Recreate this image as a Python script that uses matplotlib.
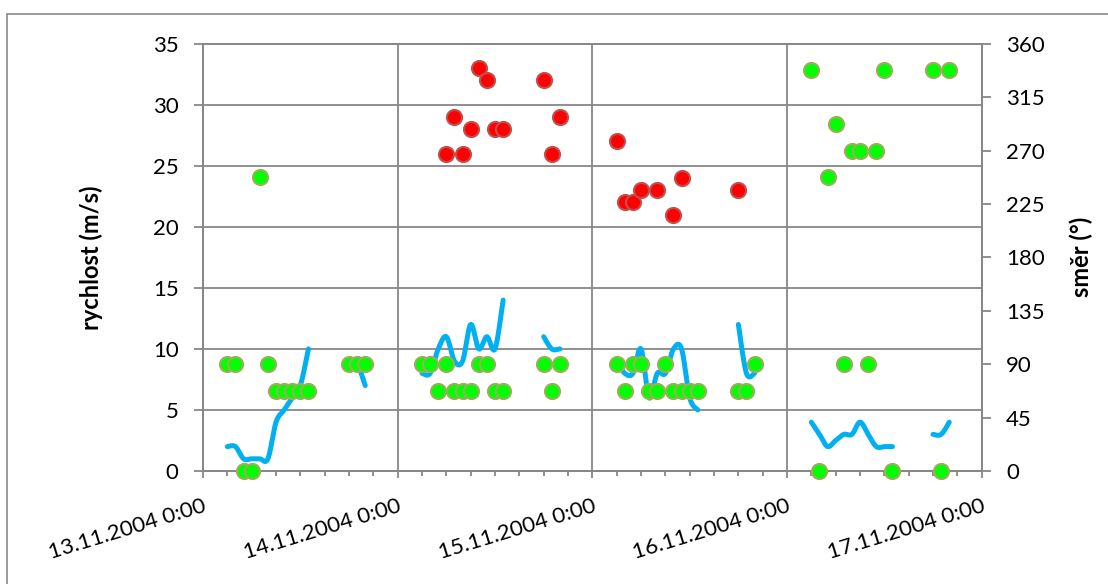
import numpy as np
import matplotlib
matplotlib.use("Agg")
import matplotlib.pyplot as plt
from matplotlib.patches import Rectangle

plt.rcParams['font.family'] = ['Lato', 'DejaVu Sans']

# hours counted from 13.11.2004 0:00
day_labels = ["13.11.2004 0:00", "14.11.2004 0:00", "15.11.2004 0:00",
              "16.11.2004 0:00", "17.11.2004 0:00"]

speed_h = [3, 4, 5, 6, 7, 8, 9, 10, 11, 12, 13, 19, 20,
           27, 28, 29, 30, 31, 32, 33, 34, 35, 36, 37, 42, 43, 44,
           51, 52, 53, 54, 55, 56, 57, 58, 59, 60, 61, 66, 67, 68,
           75, 76, 77, 78, 79, 80, 81, 82, 83, 84, 85, 90, 91, 92]
speed = [2, 2, 1, 1, 1, 1, 4, 5, 6, 7, 10, 9, 7,
         8, 8, 10, 11, 9, 9, 12, 10, 11, 10, 14, 11, 10, 10,
         9, 8, 8, 10, 6, 8, 8, 10, 10, 6, 5, 12, 8, 8,
         4, 3, 2, 2.5, 3, 3, 4, 3, 2, 2, 2, 3, 3, 4]

gust_h = [30, 31, 32, 33, 34, 35, 36, 37, 42, 43, 44,
          51, 52, 53, 54, 56, 58, 59, 66]
gust = [26, 29, 26, 28, 33, 32, 28, 28, 32, 26, 29,
        27, 22, 22, 23, 23, 21, 24, 23]

dir_h = [3, 4, 5, 6, 7, 8, 9, 10, 11, 12, 13, 18, 19, 20,
         27, 28, 29, 30, 31, 32, 33, 34, 35, 36, 37, 42, 43, 44,
         51, 52, 53, 54, 55, 56, 57, 58, 59, 60, 61, 66, 67, 68,
         75, 76, 77, 78, 79, 80, 81, 82, 83, 84, 85, 90, 91, 92]
direction = [90, 90, 0, 0, 247.5, 90, 67.5, 67.5, 67.5, 67.5, 67.5, 90, 90, 90,
             90, 90, 67.5, 90, 67.5, 67.5, 67.5, 90, 90, 67.5, 67.5, 90, 67.5, 90,
             90, 67.5, 90, 90, 67.5, 67.5, 90, 67.5, 67.5, 67.5, 67.5, 67.5, 67.5, 90,
             337.5, 0, 247.5, 292.5, 90, 270, 270, 90, 270, 337.5, 0, 337.5, 0, 337.5]


def smooth(x, y, n=16):
    # Catmull-Rom curve through the points, like Excel's smoothed line
    p = np.column_stack([x, y]).astype(float)
    p = np.vstack([p[0], p, p[-1]])
    t = np.linspace(0, 1, n)[:, None]
    out = []
    for i in range(1, len(p) - 2):
        p0, p1, p2, p3 = p[i - 1], p[i], p[i + 1], p[i + 2]
        seg = 0.5 * (2 * p1 + (-p0 + p2) * t + (2 * p0 - 5 * p1 + 4 * p2 - p3) * t ** 2
                     + (-p0 + 3 * p1 - 3 * p2 + p3) * t ** 3)
        out.append(seg if i == 1 else seg[1:])
    out = np.vstack(out)
    return out[:, 0], out[:, 1]


grey = "#878787"
fig = plt.figure(figsize=(11.08, 5.84), dpi=100)
fig.patches.append(Rectangle((6.5 / 1108, -0.1), 1.2, 1.1 - 14.5 / 584,
                             transform=fig.transFigure, fill=False,
                             edgecolor=grey, lw=1.2))

ax = fig.add_axes([203 / 1108, 1 - 471 / 584, 778.7 / 1108, 427.3 / 584])
ax2 = ax.twinx()

# speed line, split where hours are missing
sh = np.array(speed_h)
sv = np.array(speed, dtype=float)
breaks = np.where(np.diff(sh) > 1)[0] + 1
for xs, ys in zip(np.split(sh, breaks), np.split(sv, breaks)):
    if len(xs) > 1:
        cx, cy = smooth(xs, ys)
        ax.plot(cx, cy, color="#00B0F0", lw=3.6, solid_capstyle="round",
                solid_joinstyle="round", zorder=2)

ax.scatter(gust_h, gust, s=118, color="#FF0000", edgecolors="#C0504D",
           linewidths=1.5, zorder=3, clip_on=False)
ax2.scatter(dir_h, direction, s=118, color="#00FF00", edgecolors="#9BAF5A",
            linewidths=1.5, zorder=3, clip_on=False)

ax.set_xlim(0, 96)
ax.set_ylim(0, 35)
ax2.set_ylim(0, 360)
ax.set_yticks(range(0, 36, 5))
ax2.set_yticks(range(0, 361, 45))
ax.set_xticks([0, 24, 48, 72, 96])
ax.set_xticks(range(0, 97, 3), minor=True)
ax.set_xticklabels(day_labels, rotation=17, ha="right", rotation_mode="anchor")

ax.grid(True, which="major", color=grey, lw=1.3)
ax.set_axisbelow(True)

for a in (ax, ax2):
    for sp in a.spines.values():
        sp.set_color(grey)
        sp.set_linewidth(1.3)
    a.tick_params(axis="both", which="both", color=grey, width=1.3,
                  labelsize=16, direction="out")
ax.tick_params(axis="y", length=6.5, pad=11)
ax2.tick_params(axis="y", length=6.5, pad=11)
ax.tick_params(axis="x", which="major", length=5, pad=13)
ax.tick_params(axis="x", which="minor", length=3.5)

ax.set_ylabel("rychlost (m/s)", fontsize=17, fontweight="bold")
ax2.set_ylabel("směr (°)", fontsize=17, fontweight="bold")
ax.yaxis.set_label_coords(-0.128, 0.5)
ax2.yaxis.set_label_coords(1.113, 0.5)

fig.savefig("out.png", dpi=100)
